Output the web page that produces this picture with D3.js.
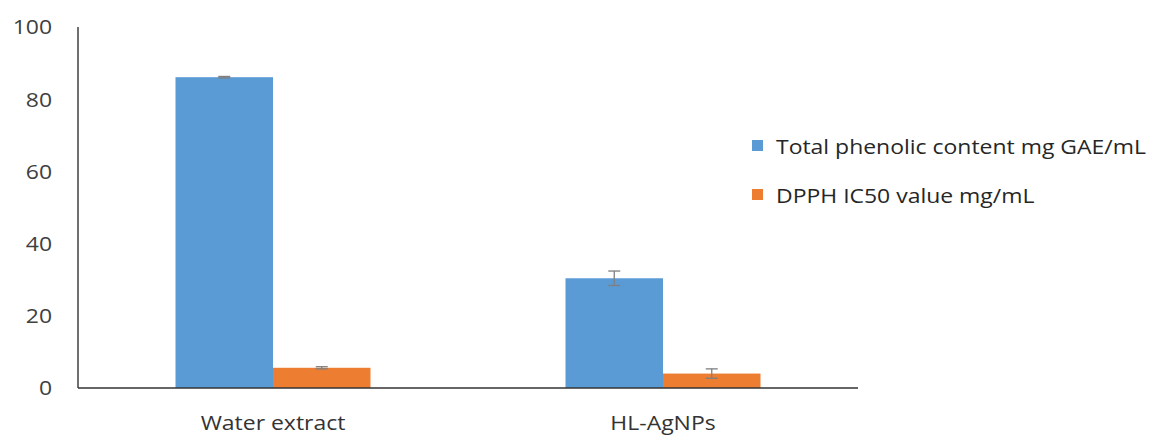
<!DOCTYPE html>
<html><head><meta charset="utf-8">
<script src="https://cdn.jsdelivr.net/npm/d3@7"></script>
<style>body{margin:0;background:#fff}svg{display:block}</style>
</head><body><svg id="c" width="1157" height="435"></svg>
<script>
const categories = ["Water extract", "HL-AgNPs"];
const seriesNames = ["Total phenolic content mg GAE/mL", "DPPH IC50 value mg/mL"];
const phenolic = [86.1, 30.4];
const phenolicErr = [0.2, 2.0];
const dpph = [5.6, 4.0];
const dpphErr = [0.3, 1.3];
const yTicks = [0, 20, 40, 60, 80, 100];
const colors = ["#5B9BD5", "#ED7D31"];

const svg = d3.select("#c");
const font = "'Open Sans', sans-serif";
const sx = 1.12; // horizontal stretch of text
const x0 = d3.scaleBand().domain(categories).range([78, 858]).paddingInner(0.5).paddingOuter(0.25);
const x1 = d3.scaleBand().domain([0, 1]).range([0, x0.bandwidth()]);
const y = d3.scaleLinear().domain([0, 100]).range([388, 27]);

const data = categories.map((c, i) => ({c, vals: [[phenolic[i], phenolicErr[i]], [dpph[i], dpphErr[i]]]}));

function stretched(sel, x, yy, anchor) {
  sel.attr("transform", (d, i) => `translate(${x(d, i)},${yy(d, i)}) scale(${sx},1)`)
     .attr("text-anchor", anchor);
}

// y tick labels
svg.append("g").selectAll("text").data(yTicks).join("text")
  .call(stretched, () => 52, d => y(d), "end")
  .attr("dy", "0.36em")
  .attr("font-family", font).attr("font-size", 20.5).attr("fill", "#404040")
  .text(d => d);

const g = svg.append("g").selectAll("g").data(data).join("g")
  .attr("transform", d => `translate(${x0(d.c)},0)`);
g.selectAll("rect").data(d => d.vals).join("rect")
  .attr("x", (d, i) => x1(i)).attr("width", x1.bandwidth())
  .attr("y", d => y(d[0])).attr("height", d => y(0) - y(d[0]))
  .attr("fill", (d, i) => colors[i]);
const eb = g.selectAll("g.eb").data(d => d.vals).join("g").attr("class", "eb")
  .attr("stroke", "#7f7f7f").attr("stroke-width", 1.3);
const cx = (d, i) => x1(i) + x1.bandwidth() / 2;
eb.append("line").attr("x1", cx).attr("x2", cx)
  .attr("y1", d => y(d[0] + d[1])).attr("y2", d => y(d[0] - d[1]));
eb.append("line").attr("x1", (d, i) => cx(d, i) - 6).attr("x2", (d, i) => cx(d, i) + 6)
  .attr("y1", d => y(d[0] + d[1])).attr("y2", d => y(d[0] + d[1]));
eb.append("line").attr("x1", (d, i) => cx(d, i) - 6).attr("x2", (d, i) => cx(d, i) + 6)
  .attr("y1", d => y(d[0] - d[1])).attr("y2", d => y(d[0] - d[1]));

// axes lines
svg.append("line").attr("x1", 78).attr("x2", 78).attr("y1", y(100)).attr("y2", y(0))
  .attr("stroke", "#222").attr("stroke-width", 1.3);
svg.append("line").attr("x1", 78).attr("x2", 858).attr("y1", y(0)).attr("y2", y(0))
  .attr("stroke", "#333").attr("stroke-width", 1.6);

// x labels
svg.append("g").selectAll("text").data(categories).join("text")
  .call(stretched, d => x0(d) + x0.bandwidth() / 2, () => 430, "middle")
  .attr("font-family", font).attr("font-size", 20.5).attr("fill", "#333")
  .text(d => d);

// legend
const lg = svg.append("g").selectAll("g").data(seriesNames).join("g")
  .attr("transform", (d, i) => `translate(752,${140 + i * 49})`);
lg.append("rect").attr("width", 11).attr("height", 11).attr("fill", (d, i) => colors[i]);
lg.append("text").call(stretched, () => 24, () => 13.5, "start")
  .attr("font-family", font).attr("font-size", 20.5).attr("fill", "#262626")
  .text(d => d);
</script></body></html>
